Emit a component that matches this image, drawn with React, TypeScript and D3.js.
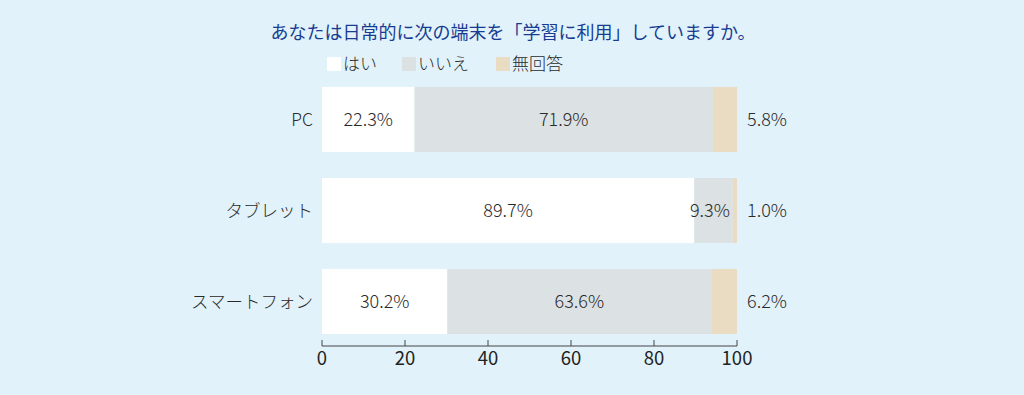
import React from 'react';
import * as d3 from 'd3';

const categories = ['PC', 'タブレット', 'スマートフォン'];
const seriesNames = ['はい', 'いいえ', '無回答'];
const yesValues = [22.3, 89.7, 30.2];
const noValues = [71.9, 9.3, 63.6];
const naValues = [5.8, 1.0, 6.2];
const tickValues = [0, 20, 40, 60, 80, 100];
const colors = ['#ffffff', '#dce2e3', '#e9dcc2'];

const title = 'あなたは日常的に次の端末を「学習に利用」していますか。';
const font = '"Noto Sans CJK JP", "Noto Sans", sans-serif';

export default function App() {
  const width = 1024;
  const height = 395;

  const x = d3.scaleLinear().domain([0, 100]).range([322, 737]);
  // bars 65px tall, 91px apart
  const y = d3.scaleBand().domain(categories).range([68.8, 352.2]).paddingInner(26 / 91).paddingOuter(0.2);

  const rows = categories.map((c, i) => {
    const vals = [yesValues[i], noValues[i], naValues[i]];
    let acc = 0;
    const segs = vals.map((v, k) => {
      const s = { k, v, x0: acc, x1: acc + v };
      acc += v;
      return s;
    });
    return { c, segs };
  });

  const axisY = 346;
  const legendX = [327, 402, 496];

  return (
    <svg width={width} height={height} style={{ position: 'fixed', top: 0, left: 0 }} fontFamily={font} fontWeight={300}>
      <rect width={width} height={height} fill="#e1f2fb" />
      <text x={513} y={39} textAnchor="middle" fontSize={18} fontWeight={400} fill="#173c92">{title}</text>
      {seriesNames.map((n, i) => (
        <g key={n}>
          <rect x={legendX[i]} y={57} width={14} height={14} fill={colors[i]} />
          <text x={legendX[i] + 16} y={70} fontSize={17} fill="#2a2a2a">{n}</text>
        </g>
      ))}
      {rows.map((r) => {
        const by = y(r.c)!;
        const bh = y.bandwidth();
        const cy = by + bh / 2;
        return (
          <g key={r.c}>
            <text x={313} y={cy} dy="0.35em" textAnchor="end" fontSize={17.5} fill="#2a2a2a">{r.c}</text>
            {r.segs.map((s) => (
              <rect key={s.k} x={x(s.x0)} y={by} width={x(s.x1) - x(s.x0)} height={bh} fill={colors[s.k]} />
            ))}
            {r.segs.map((s) => {
              const label = s.v.toFixed(1) + '%';
              if (s.k === 2) {
                return <text key={s.k} x={x(100) + 10} y={cy} dy="0.35em" fontSize={18} fill="#2a2a2a">{label}</text>;
              }
              const w = x(s.x1) - x(s.x0);
              if (w < 60) {
                return <text key={s.k} x={x(s.x1) - 3} y={cy} dy="0.35em" textAnchor="end" fontSize={18} fill="#2a2a2a">{label}</text>;
              }
              return <text key={s.k} x={(x(s.x0) + x(s.x1)) / 2} y={cy} dy="0.35em" textAnchor="middle" fontSize={18} fill="#2a2a2a">{label}</text>;
            })}
          </g>
        );
      })}
      <line x1={x(0)} x2={x(100)} y1={axisY} y2={axisY} stroke="#444" strokeWidth={1} />
      {tickValues.map((t) => (
        <g key={t}>
          <line x1={x(t)} x2={x(t)} y1={axisY - 6} y2={axisY} stroke="#444" />
          <text x={x(t)} y={axisY + 19} textAnchor="middle" fontSize={18.5} fontWeight={400} fill="#222">{t}</text>
        </g>
      ))}
    </svg>
  );
}
